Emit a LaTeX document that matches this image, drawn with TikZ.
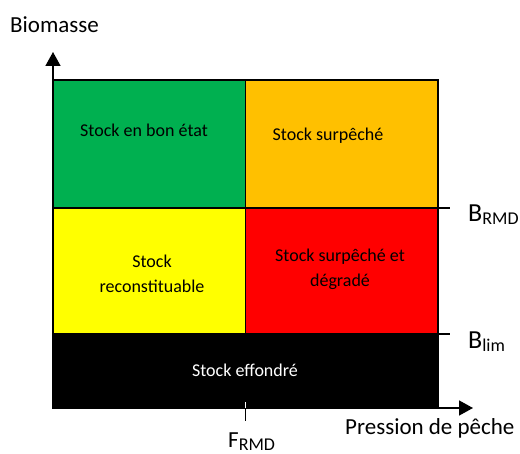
\documentclass[tikz,border=0pt]{standalone}
\usepackage{fontspec}
\setmainfont{Carlito}
\usetikzlibrary{arrows.meta,positioning}
\definecolor{bonvert}{HTML}{00B050}
\definecolor{surorange}{HTML}{FFC000}
\definecolor{reconjaune}{HTML}{FFFF00}
\definecolor{degrouge}{HTML}{FF0000}
\newcommand{\indice}[1]{\raisebox{-3pt}{\fontsize{18}{18}\selectfont #1}}

\begin{document}
\begin{tikzpicture}[x=1pt,y=-1pt,
        zone/.style={draw,line width=1.2pt,minimum width=192.5pt,inner sep=0pt,outer sep=0pt},
        lab/.style={font=\fontsize{18}{25}\selectfont,align=center,inner sep=0pt},
        axlab/.style={font=\fontsize{23}{23}\selectfont,inner sep=0pt,anchor=base west},
        seuil/.style={font=\fontsize{26}{26}\selectfont,inner sep=0pt,anchor=base west},
        axe/.style={line width=1.5pt,-{Triangle[length=14pt,width=15pt]}}]

        \useasboundingbox (0,0) rectangle (520,454);

        % zones
        \node[zone,fill=bonvert,minimum height=128pt]    (Z01) at (149.25,144) {};
        \node[zone,fill=surorange,minimum height=128pt]  (Z02) [right=0pt of Z01] {};
        \node[zone,fill=reconjaune,minimum height=126pt] (Z03) [below=0pt of Z01] {};
        \node[zone,fill=degrouge,minimum height=126pt]   (Z04) [right=0pt of Z03] {};
        \node[zone,fill=black,minimum width=385pt,minimum height=74pt,anchor=north west]
                (Z05) at (Z03.south west) {};

        \node[lab]            (L01) at (144,130) {Stock en bon état};
        \node[lab]            (L02) at (328,136) {Stock surpêché};
        \node[lab]            (L03) at (152,274) {Stock\\reconstituable};
        \node[lab]            (L04) at (340,269) {Stock surpêché et\\dégradé};
        \node[lab,text=white] (L05) at (245,370) {Stock effondré};

        % axes
        \coordinate (O)  at (Z05.south west);
        \coordinate (Yt) at (53,52);
        \coordinate (Xt) at (473,408);
        \draw[axe] (O) -- (Yt);
        \draw[axe] (O) -- (Xt);

        % seuils
        \draw[line width=1.2pt] (Z04.north east) -- ++(12,0);
        \draw[line width=1.2pt] (Z04.south east) -- ++(12,0);
        \draw[white,line width=1pt] (Z05.south) -- ++(0,-6);
        \draw[line width=1.2pt] (Z05.south) -- ++(0,13);

        \node[axlab] (Biom) at (10,33)   {Biomasse};
        \node[axlab] (Pres) at (345,435) {Pression de pêche};
        \node[seuil] (Brmd) at (468,222) {B\indice{RMD}};
        \node[seuil] (Blim) at (468,349) {B\indice{lim}};
        \node[axlab] (Frmd) at (228,448) {F\indice{RMD}};
\end{tikzpicture}
\end{document}
